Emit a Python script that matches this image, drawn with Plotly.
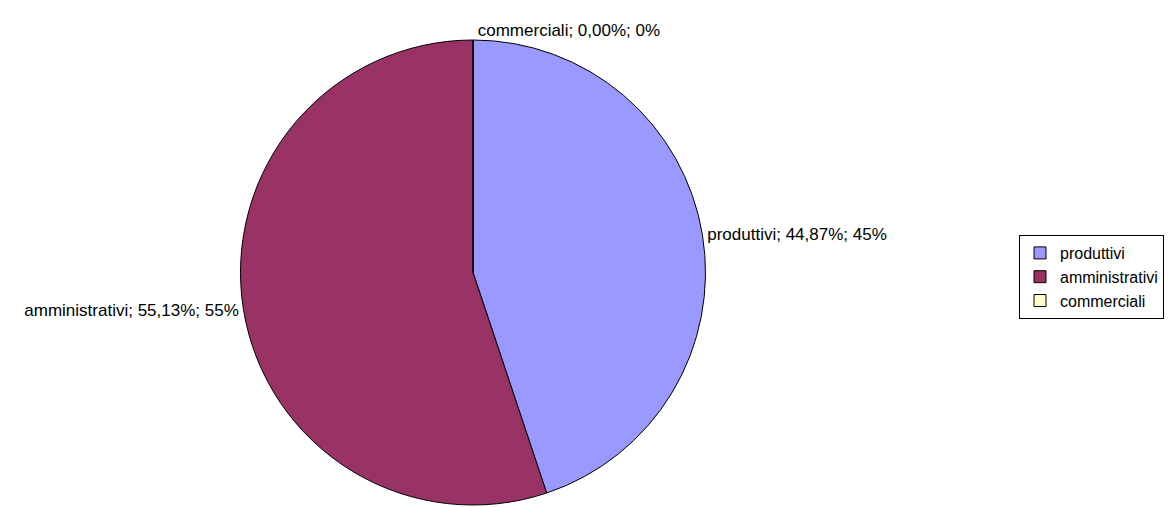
import plotly.graph_objects as go

labels = ["produttivi", "amministrativi", "commerciali"]
values = [44.87, 55.13, 0.0]
pct_text = ["44,87%", "55,13%", "0,00%"]
round_text = ["45%", "55%", "0%"]
colors = ["#9999FF", "#993366", "#FFFFCC"]

# page body has an 8px margin; figure is sized to fit the remaining window
W, H = 1164, 499
cx, r = 465, 232.5
FONT = "Liberation Sans, Arial, sans-serif"
fig = go.Figure(go.Pie(
    labels=labels,
    values=values,
    customdata=list(zip(pct_text, round_text)),
    texttemplate="%{label}; %{customdata[0]}; %{customdata[1]}",
    textposition="outside",
    sort=False,
    direction="clockwise",
    rotation=0,
    marker=dict(colors=colors, line=dict(color="#000000", width=1)),
    textfont=dict(family=FONT, size=17, color="#000000"),
    domain=dict(x=[(cx - r) / W, (cx + r) / W], y=[0, 1]),
    hoverinfo="label+value+percent",
))

fig.update_layout(
    width=W, height=H,
    margin=dict(l=0, r=0, t=32, b=2, autoexpand=False),
    paper_bgcolor="white",
    plot_bgcolor="white",
    font=dict(family=FONT, size=17, color="#000000"),
    legend=dict(
        x=1011 / W, xanchor="left",
        y=(497 - 227) / 465, yanchor="top",
        bordercolor="#000000", borderwidth=1,
        bgcolor="white",
        font=dict(family=FONT, size=16, color="#000000"),
        itemwidth=30,
        tracegroupgap=0,
    ),
)

fig.write_html("out.html")
